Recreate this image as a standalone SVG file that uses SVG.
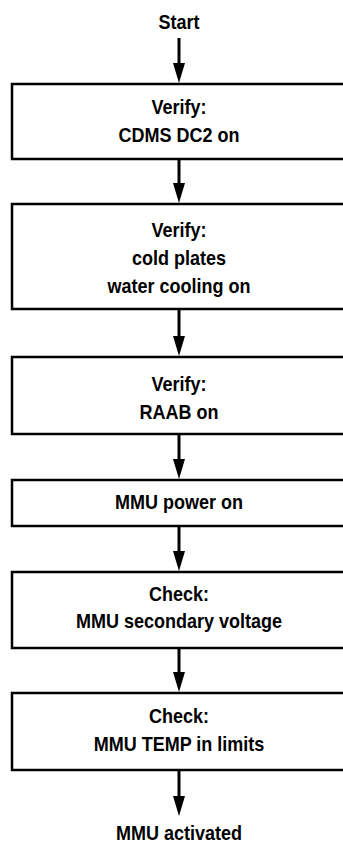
<svg xmlns="http://www.w3.org/2000/svg" width="343" height="848" viewBox="0 0 343 848">
<style>
.box{fill:#fff;stroke:#000;stroke-width:2.5}
.t{font-family:"Liberation Sans",Arial,sans-serif;font-weight:bold;font-size:20px;fill:#000;text-anchor:middle;transform-origin:179px 0;transform:scaleX(0.9)}
.c{stroke:#000;stroke-width:3;fill:none}
</style>
<defs>
<marker id="ah" markerUnits="userSpaceOnUse" markerWidth="20" markerHeight="12" viewBox="0 0 20 12" refX="10" refY="6" orient="auto">
<path d="M0,0 L20,6 L0,12 z" fill="#000"/>
</marker>
</defs>
<rect width="343" height="848" fill="#fff"/>
<g id="connectors">
<line class="c" x1="179" y1="38" x2="179" y2="73" marker-end="url(#ah)"/>
<line class="c" x1="179" y1="159" x2="179" y2="193" marker-end="url(#ah)"/>
<line class="c" x1="179" y1="309" x2="179" y2="346" marker-end="url(#ah)"/>
<line class="c" x1="179" y1="434" x2="179" y2="469" marker-end="url(#ah)"/>
<line class="c" x1="179" y1="526" x2="179" y2="561" marker-end="url(#ah)"/>
<line class="c" x1="179" y1="648" x2="179" y2="682" marker-end="url(#ah)"/>
<line class="c" x1="179" y1="770" x2="179" y2="806" marker-end="url(#ah)"/>
</g>
<g id="start"><text class="t" x="179" y="29">Start</text></g>
<g id="n1">
<rect class="box" x="12" y="84" width="345" height="75"/>
<text class="t" x="179" y="114">Verify:</text>
<text class="t" x="179" y="142">CDMS DC2 on</text>
</g>
<g id="n2">
<rect class="box" x="12" y="204" width="345" height="105"/>
<text class="t" x="179" y="237">Verify:</text>
<text class="t" x="179" y="265">cold plates</text>
<text class="t" x="179" y="293">water cooling on</text>
</g>
<g id="n3">
<rect class="box" x="12" y="357" width="345" height="77"/>
<text class="t" x="179" y="391">Verify:</text>
<text class="t" x="179" y="419">RAAB on</text>
</g>
<g id="n4">
<rect class="box" x="12" y="480" width="345" height="46"/>
<text class="t" x="179" y="509">MMU power on</text>
</g>
<g id="n5">
<rect class="box" x="12" y="572" width="345" height="76"/>
<text class="t" x="179" y="601">Check:</text>
<text class="t" x="179" y="628">MMU secondary voltage</text>
</g>
<g id="n6">
<rect class="box" x="12" y="693" width="345" height="77"/>
<text class="t" x="179" y="723">Check:</text>
<text class="t" x="179" y="751">MMU TEMP in limits</text>
</g>
<g id="end"><text class="t" x="179" y="840">MMU activated</text></g>
</svg>
